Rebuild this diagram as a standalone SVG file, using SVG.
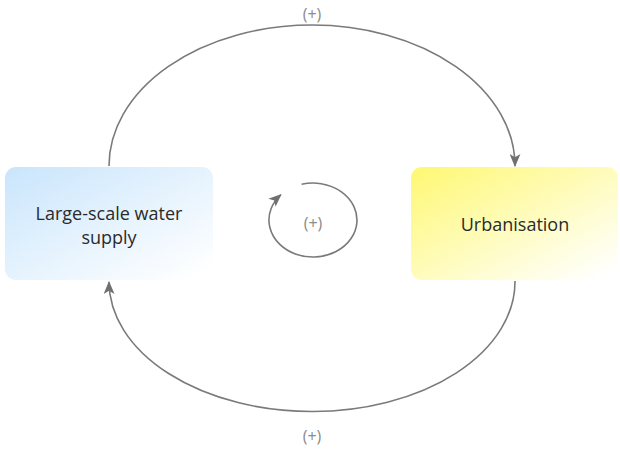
<svg xmlns="http://www.w3.org/2000/svg" width="620" height="450" viewBox="0 0 620 450">
  <defs>
    <linearGradient id="gradBlue" x1="0" y1="0" x2="1" y2="1">
      <stop offset="0" stop-color="#c9e5fc"/>
      <stop offset="0.95" stop-color="#ffffff"/>
    </linearGradient>
    <linearGradient id="gradYellow" x1="0" y1="0" x2="1" y2="1">
      <stop offset="0" stop-color="#fef872"/>
      <stop offset="0.95" stop-color="#ffffff"/>
    </linearGradient>
    <marker id="arrow" viewBox="0 0 12 10" refX="11" refY="5" markerWidth="13" markerHeight="11" markerUnits="userSpaceOnUse" orient="auto">
      <path d="M0,0 L12,5 L0,10 L3,5 Z" fill="#707070"/>
    </marker>
    <style>
      .link { fill: none; stroke: #7a7a7a; stroke-width: 1.6; }
      .label { font-family: "Open Sans", "Noto Sans", sans-serif; font-size: 18px; fill: #2a2a2a; text-anchor: middle; }
      .sign { font-family: "Open Sans", "Noto Sans", sans-serif; font-size: 16px; fill: #8a8a8a; text-anchor: middle; }
    </style>
  </defs>

  <g id="connectors">
    <path class="link" d="M109,166 A203 141 0 0 1 515,166" marker-end="url(#arrow)"/>
    <path class="link" d="M515,281 A203 130 0 0 1 109,282" marker-end="url(#arrow)"/>
    <path class="link" d="M301.6,184.3 A44 37 0 1 1 280.8,194.8" marker-end="url(#arrow)"/>
  </g>

  <g id="node-water">
    <rect x="5" y="167" width="208" height="113" rx="11" fill="url(#gradBlue)"/>
    <text class="label" x="109" y="220">Large-scale water</text>
    <text class="label" x="109" y="244">supply</text>
  </g>

  <g id="node-urbanisation">
    <rect x="411" y="167" width="207" height="113" rx="11" fill="url(#gradYellow)"/>
    <text class="label" x="515" y="231">Urbanisation</text>
  </g>

  <g id="signs">
    <text class="sign" x="312" y="20">(+)</text>
    <text class="sign" x="313" y="229">(+)</text>
    <text class="sign" x="312" y="442">(+)</text>
  </g>
</svg>
